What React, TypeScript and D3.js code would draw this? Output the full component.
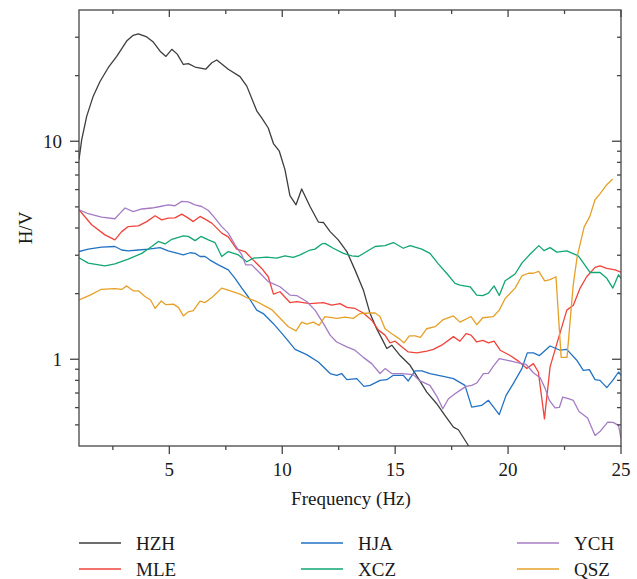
import React from 'react';
import * as d3 from 'd3';

type P = [number, number];

const HZH: P[] = [
  [1, 8.24], [1.12, 10.18], [1.34, 13.0], [1.63, 16.1], [1.93, 18.8], [2.3, 21.8], [2.67, 24.5], [3.11, 28.8],
  [3.4, 30.6], [3.63, 31.1], [4.0, 30.1], [4.29, 28.5], [4.59, 25.9], [4.85, 24.5], [5.11, 26.4], [5.35, 25.1],
  [5.62, 22.5], [5.84, 22.7], [6.14, 21.9], [6.61, 21.4], [6.88, 22.9], [7.1, 23.6], [7.61, 21.4], [8.13, 19.8],
  [8.43, 17.9], [8.87, 13.8], [9.09, 12.8], [9.38, 11.5], [9.61, 9.76], [9.87, 9.0], [10.12, 7.41], [10.34, 5.63],
  [10.61, 5.11], [10.86, 6.04], [11.23, 5.02], [11.6, 4.26], [11.82, 4.24], [12.12, 3.85], [12.48, 3.53],
  [12.86, 3.12], [13.22, 2.57], [13.59, 2.08], [13.89, 1.62], [14.18, 1.38], [14.45, 1.22], [14.63, 1.12],
  [14.85, 1.16], [15.22, 1.04], [15.66, 0.938], [16.03, 0.815], [16.4, 0.707], [16.84, 0.625], [17.21, 0.552],
  [17.58, 0.488], [17.8, 0.475], [18.24, 0.402], [18.4, 0.37],
];

const MLE: P[] = [
  [1, 4.85], [1.56, 4.14], [2.15, 3.72], [2.59, 3.53], [2.89, 3.85], [3.18, 4.06], [3.63, 4.09], [4.0, 4.28],
  [4.37, 4.55], [4.66, 4.36], [4.95, 4.44], [5.25, 4.45], [5.55, 4.63], [5.84, 4.44], [6.06, 4.28], [6.36, 4.52],
  [6.58, 4.39], [6.88, 4.21], [7.32, 3.79], [7.61, 3.64], [7.98, 3.2], [8.35, 3.12], [8.72, 2.85], [9.09, 2.61],
  [9.38, 2.39], [9.61, 1.99], [9.9, 2.04], [10.34, 1.82], [10.64, 1.84], [11.23, 1.8], [11.82, 1.82], [12.19, 1.77],
  [12.56, 1.8], [12.86, 1.73], [13.22, 1.71], [13.59, 1.63], [13.96, 1.51], [14.26, 1.36], [14.55, 1.29],
  [14.77, 1.19], [15.0, 1.21], [15.29, 1.14], [15.58, 1.08], [15.96, 1.07], [16.4, 1.09], [16.69, 1.11],
  [17.06, 1.16], [17.58, 1.27], [17.87, 1.21], [18.14, 1.31], [18.36, 1.29], [18.61, 1.2], [18.88, 1.22],
  [19.13, 1.19], [19.38, 1.21], [19.65, 1.1], [20.09, 1.04], [20.46, 0.98], [20.83, 0.906], [21.12, 0.955],
  [21.34, 0.874], [21.61, 0.533], [21.86, 0.922], [22.16, 1.18], [22.6, 1.68], [22.89, 1.77], [23.19, 2.12],
  [23.48, 2.39], [23.85, 2.64], [24.07, 2.68], [24.37, 2.61], [24.74, 2.57], [25, 2.51],
];

const HJA: P[] = [
  [1, 3.12], [1.41, 3.2], [2.0, 3.27], [2.59, 3.29], [2.89, 3.17], [3.18, 3.14], [3.63, 3.17], [4.07, 3.2],
  [4.59, 3.25], [4.95, 3.14], [5.25, 3.08], [5.62, 3.01], [5.92, 3.08], [6.14, 3.06], [6.36, 2.96], [6.58, 2.96],
  [6.8, 2.85], [7.17, 2.71], [7.61, 2.57], [7.91, 2.35], [8.21, 2.12], [8.5, 1.93], [8.87, 1.68], [9.16, 1.62],
  [9.6, 1.46], [10.05, 1.29], [10.57, 1.11], [11.08, 1.05], [11.6, 0.972], [12.12, 0.86], [12.41, 0.844],
  [12.63, 0.86], [12.86, 0.806], [13.3, 0.815], [13.62, 0.751], [13.89, 0.759], [14.33, 0.8], [14.63, 0.806],
  [14.92, 0.844], [15.36, 0.844], [15.58, 0.795], [15.88, 0.884], [16.18, 0.884], [16.54, 0.86], [17.13, 0.835],
  [17.58, 0.815], [18.09, 0.759], [18.39, 0.603], [18.83, 0.614], [19.13, 0.648], [19.61, 0.557], [19.91, 0.683],
  [20.23, 0.773], [20.61, 0.906], [20.85, 1.07], [21.12, 1.07], [21.39, 1.04], [21.86, 1.15], [22.3, 1.1],
  [22.6, 1.11], [23.04, 0.99], [23.33, 0.89], [23.6, 0.896], [23.85, 0.806], [24.07, 0.8], [24.37, 0.741],
  [24.66, 0.806], [24.89, 0.874], [25, 0.844],
];

const XCZ: P[] = [
  [1, 2.92], [1.41, 2.76], [2.15, 2.68], [2.59, 2.74], [3.18, 2.88], [3.78, 3.06], [4.22, 3.29], [4.51, 3.47],
  [4.81, 3.38], [5.11, 3.55], [5.62, 3.68], [5.84, 3.66], [6.14, 3.5], [6.4, 3.66], [6.73, 3.53], [7.02, 3.43],
  [7.32, 2.96], [7.61, 3.12], [8.06, 3.01], [8.43, 2.8], [8.72, 2.91], [9.31, 2.94], [9.76, 2.91], [10.12, 2.98],
  [10.49, 2.93], [10.79, 3.01], [11.23, 3.17], [11.45, 3.2], [11.75, 3.38], [11.89, 3.4], [12.26, 3.23],
  [12.71, 3.06], [13.08, 2.98], [13.37, 2.96], [13.74, 3.12], [14.11, 3.29], [14.55, 3.32], [14.92, 3.43],
  [15.36, 3.23], [15.66, 3.32], [16.18, 3.2], [16.54, 3.06], [16.91, 2.74], [17.28, 2.48], [17.65, 2.23],
  [17.87, 2.19], [18.32, 2.15], [18.61, 1.97], [18.88, 1.96], [19.13, 2.01], [19.38, 2.17], [19.61, 1.96],
  [19.87, 2.29], [20.31, 2.46], [20.61, 2.76], [20.97, 3.03], [21.36, 3.32], [21.59, 3.15], [21.86, 3.25],
  [22.16, 3.1], [22.6, 3.14], [23.11, 2.98], [23.63, 2.5], [24.07, 2.5], [24.37, 2.35], [24.64, 2.12],
  [24.89, 2.44], [25, 2.35],
];

const YCH: P[] = [
  [1, 4.85], [1.41, 4.65], [2.0, 4.49], [2.59, 4.41], [2.82, 4.68], [3.04, 4.94], [3.4, 4.76], [3.78, 4.89],
  [4.22, 4.94], [4.59, 5.02], [4.95, 5.11], [5.25, 5.06], [5.55, 5.3], [5.84, 5.27], [6.14, 5.11], [6.43, 5.02],
  [6.73, 4.81], [7.02, 4.44], [7.32, 4.06], [7.61, 3.79], [7.91, 3.35], [8.21, 3.01], [8.38, 2.71], [8.65, 2.71],
  [9.02, 2.48], [9.38, 2.27], [9.9, 2.15], [10.34, 1.97], [10.64, 1.96], [11.08, 1.84], [11.45, 1.68],
  [11.82, 1.46], [12.12, 1.29], [12.41, 1.2], [12.86, 1.14], [13.22, 1.1], [13.59, 1.02], [13.96, 0.955],
  [14.33, 0.86], [14.55, 0.906], [14.85, 0.86], [15.29, 0.86], [15.8, 0.85], [16.1, 0.795], [16.54, 0.759],
  [16.84, 0.678], [17.11, 0.593], [17.36, 0.659], [17.65, 0.695], [17.87, 0.72], [18.14, 0.751], [18.39, 0.759],
  [18.61, 0.778], [18.91, 0.86], [19.13, 0.862], [19.35, 0.929], [19.61, 1.007], [20.09, 0.982], [20.46, 0.962],
  [20.8, 0.948], [21.12, 0.867], [21.42, 0.822], [21.64, 0.735], [21.83, 0.647], [22.08, 0.598], [22.27, 0.601],
  [22.42, 0.671], [22.67, 0.659], [22.89, 0.647], [23.14, 0.576], [23.52, 0.538], [23.85, 0.447], [24.07, 0.466],
  [24.41, 0.515], [24.65, 0.513], [24.89, 0.497], [25, 0.433],
];

const QSZ: P[] = [
  [1, 1.87], [1.49, 1.97], [1.97, 2.09], [2.59, 2.11], [2.89, 2.09], [3.11, 2.17], [3.4, 2.06], [3.63, 2.06],
  [3.92, 1.94], [4.17, 1.87], [4.37, 1.71], [4.64, 1.85], [4.85, 1.78], [5.18, 1.79], [5.4, 1.73], [5.62, 1.58],
  [5.84, 1.65], [6.06, 1.67], [6.36, 1.85], [6.58, 1.82], [6.91, 1.93], [7.32, 2.12], [7.64, 2.07], [8.13, 1.99],
  [8.5, 1.9], [8.87, 1.84], [9.16, 1.77], [9.53, 1.69], [9.83, 1.57], [10.27, 1.41], [10.61, 1.35], [10.86, 1.48],
  [11.08, 1.45], [11.38, 1.48], [11.63, 1.43], [11.89, 1.57], [12.41, 1.54], [12.78, 1.56], [13.15, 1.54],
  [13.44, 1.62], [13.89, 1.63], [14.11, 1.63], [14.33, 1.57], [14.55, 1.38], [14.85, 1.31], [15.14, 1.25],
  [15.39, 1.19], [15.63, 1.28], [15.88, 1.28], [16.12, 1.26], [16.39, 1.38], [16.77, 1.41], [17.13, 1.52],
  [17.58, 1.58], [17.87, 1.48], [18.36, 1.57], [18.61, 1.44], [18.88, 1.55], [19.35, 1.57], [19.61, 1.68],
  [19.87, 1.9], [20.31, 2.12], [20.61, 2.41], [20.9, 2.48], [21.12, 2.48], [21.36, 2.53], [21.62, 2.29],
  [21.86, 2.32], [22.12, 2.39], [22.35, 1.02], [22.61, 1.02], [22.88, 2.17], [23.06, 2.96], [23.37, 4.05],
  [23.62, 4.52], [23.85, 5.39], [24.07, 5.74], [24.37, 6.32], [24.63, 6.71],
];

const SERIES_NAMES = ['HZH', 'MLE', 'HJA', 'XCZ', 'YCH', 'QSZ'];
const SERIES_DATA = [HZH, MLE, HJA, XCZ, YCH, QSZ];
const SERIES_COLORS = ['#3d3d3d', '#f0433b', '#2272c3', '#11a672', '#a47bc4', '#e6a028'];

const X_MAJOR = [5, 10, 15, 20, 25];
const X_MINOR = [2.5, 7.5, 12.5, 17.5, 22.5];
const Y_MAJOR = [1, 10];
const Y_MINOR = [0.5, 0.6, 0.7, 0.8, 0.9, 2, 3, 4, 5, 6, 7, 8, 9, 20, 30];

const FONT = '"Liberation Serif", "DejaVu Serif", serif';

export default function App() {
  const W = 637;
  const H = 579;
  const L = 79, R = 621, T = 10, B = 446;
  const x = d3.scaleLinear().domain([1, 25]).range([L, R]);
  const y = d3.scaleLog().domain([0.4, 40]).range([B, T]);
  const line = d3.line<P>().x((d) => x(d[0])).y((d) => y(d[1]));
  const axisColor = '#454545';

  const legendCols = [79, 301, 517];
  const legendRows = [543, 569];

  return (
    <svg width={W} height={H} style={{ position: 'absolute', left: 0, top: 0, background: '#fff' }}
      fontFamily={FONT}>
      <defs>
        <clipPath id="plotclip">
          <rect x={L} y={T} width={R - L} height={B - T} />
        </clipPath>
      </defs>
      <g clipPath="url(#plotclip)" fill="none" strokeWidth={1.3} strokeLinejoin="round">
        {SERIES_DATA.map((d, i) => (
          <path key={SERIES_NAMES[i]} d={line(d) || ''} stroke={SERIES_COLORS[i]} />
        ))}
      </g>
      <rect x={L} y={T} width={R - L} height={B - T} fill="none" stroke={axisColor} strokeWidth={1.3} />
      {X_MAJOR.map((v) => (
        <g key={'xM' + v}>
          <line x1={x(v)} x2={x(v)} y1={B} y2={B + 8} stroke={axisColor} strokeWidth={1.3} />
          <line x1={x(v)} x2={x(v)} y1={T} y2={T + 7} stroke={axisColor} strokeWidth={1.3} />
          <text x={x(v)} y={476} textAnchor="middle" fontSize={19} fill="#1a1a1a">{v}</text>
        </g>
      ))}
      {X_MINOR.map((v) => (
        <g key={'xm' + v}>
          <line x1={x(v)} x2={x(v)} y1={B} y2={B + 4} stroke={axisColor} strokeWidth={1.3} />
          <line x1={x(v)} x2={x(v)} y1={T} y2={T + 4} stroke={axisColor} strokeWidth={1.3} />
        </g>
      ))}
      {Y_MAJOR.map((v) => (
        <g key={'yM' + v}>
          <line x1={L - 9} x2={L} y1={y(v)} y2={y(v)} stroke={axisColor} strokeWidth={1.3} />
          <line x1={R - 9} x2={R} y1={y(v)} y2={y(v)} stroke={axisColor} strokeWidth={1.3} />
          <text x={62} y={y(v)} dy="0.35em" textAnchor="end" fontSize={19} fill="#1a1a1a">{v}</text>
        </g>
      ))}
      {Y_MINOR.map((v) => (
        <g key={'ym' + v}>
          <line x1={L - 4} x2={L} y1={y(v)} y2={y(v)} stroke={axisColor} strokeWidth={1.3} />
          <line x1={R - 4} x2={R} y1={y(v)} y2={y(v)} stroke={axisColor} strokeWidth={1.3} />
        </g>
      ))}
      <text x={351} y={505} textAnchor="middle" fontSize={19} fill="#1a1a1a">Frequency (Hz)</text>
      <text transform={`translate(32, ${(T + B) / 2}) rotate(-90)`} textAnchor="middle" fontSize={19} fill="#1a1a1a">H/V</text>
      {SERIES_NAMES.map((name, i) => {
        const cx = legendCols[Math.floor(i / 2)];
        const cy = legendRows[i % 2];
        return (
          <g key={'lg' + name}>
            <line x1={cx} x2={cx + 42} y1={cy} y2={cy} stroke={SERIES_COLORS[i]} strokeWidth={1.5} />
            <text x={cx + 57} y={cy} dy="0.35em" fontSize={19} fill="#1a1a1a">{name}</text>
          </g>
        );
      })}
    </svg>
  );
}
